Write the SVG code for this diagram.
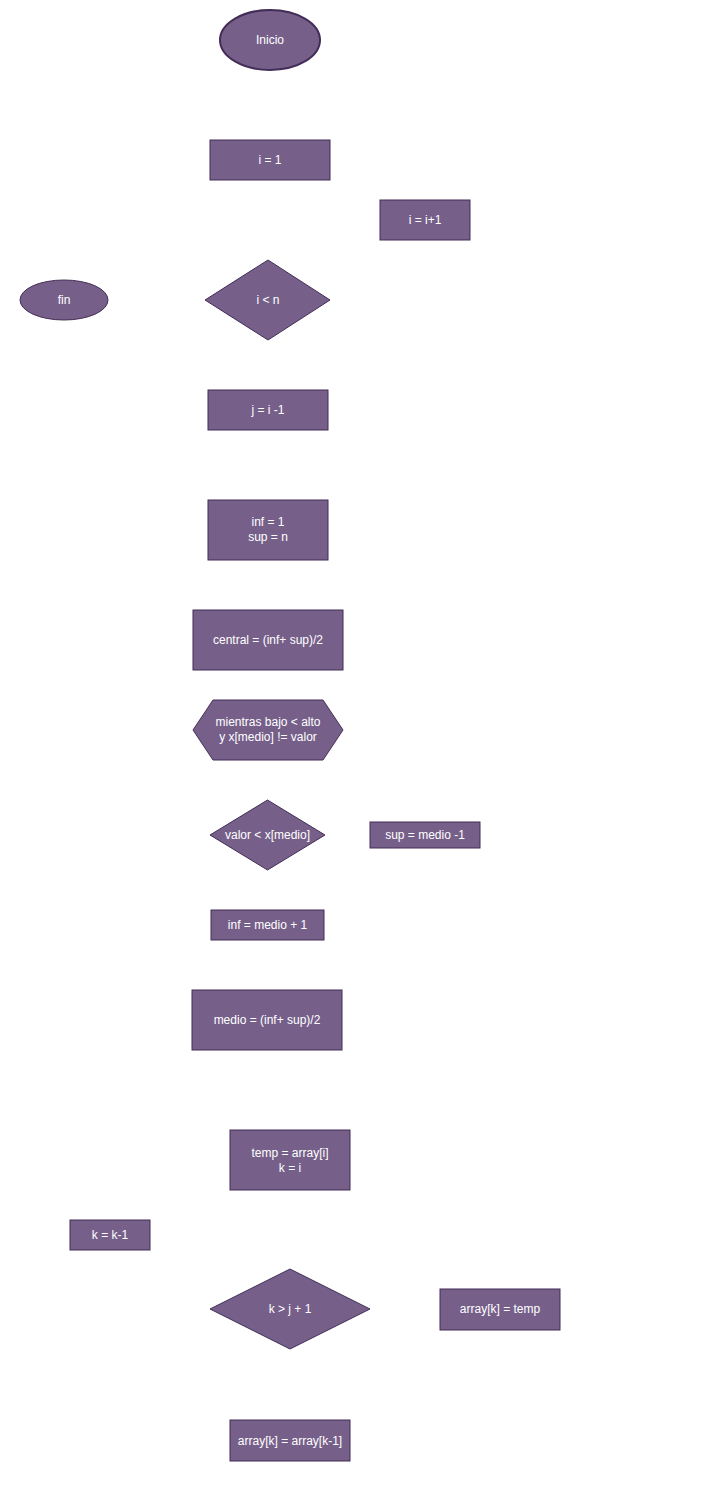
<svg xmlns="http://www.w3.org/2000/svg" width="718" height="1496" viewBox="0 0 718 1496">
<style>
.s{fill:#76608a;stroke:#432d57;stroke-width:1}
.t{font-family:"Liberation Sans",Arial,sans-serif;font-size:12px;fill:#ffffff;text-anchor:middle}
</style>
<rect width="718" height="1496" fill="#ffffff"/>
<g id="connectors"></g>
<g id="inicio"><ellipse class="s" cx="270" cy="40" rx="50" ry="30" style="stroke-width:2"/><text class="t" x="270" y="44">Inicio</text></g>
<g id="i1"><rect class="s" x="210" y="140" width="120" height="40"/><text class="t" x="270" y="164">i = 1</text></g>
<g id="iinc"><rect class="s" x="380" y="200" width="90" height="40"/><text class="t" x="425" y="224">i = i+1</text></g>
<g id="fin"><ellipse class="s" cx="64" cy="300" rx="44" ry="20"/><text class="t" x="64" y="304">fin</text></g>
<g id="iltn"><polygon class="s" points="268,260 330,300 268,340 205,300"/><text class="t" x="268" y="304">i &lt; n</text></g>
<g id="j"><rect class="s" x="208" y="390" width="120" height="40"/><text class="t" x="268" y="414">j = i -1</text></g>
<g id="infsup"><rect class="s" x="208" y="500" width="120" height="60"/><text class="t" x="268" y="526">inf = 1</text><text class="t" x="268" y="541">sup = n</text></g>
<g id="central"><rect class="s" x="193" y="610" width="150" height="60"/><text class="t" x="268" y="644">central = (inf+ sup)/2</text></g>
<g id="mientras"><polygon class="s" points="193,730 213,700 323,700 343,730 323,760 213,760"/><text class="t" x="268" y="726">mientras bajo &lt; alto</text><text class="t" x="268" y="741">y x[medio] != valor</text></g>
<g id="valor"><polygon class="s" points="267.5,800 325,835 267.5,870 210,835"/><text class="t" x="267.5" y="839">valor &lt; x[medio]</text></g>
<g id="supm"><rect class="s" x="370" y="822" width="110" height="26"/><text class="t" x="425" y="839">sup = medio -1</text></g>
<g id="infm"><rect class="s" x="211" y="910" width="113" height="30"/><text class="t" x="267.5" y="929">inf = medio + 1</text></g>
<g id="medio"><rect class="s" x="192" y="990" width="150" height="60"/><text class="t" x="267" y="1024">medio = (inf+ sup)/2</text></g>
<g id="temp"><rect class="s" x="230" y="1130" width="120" height="60"/><text class="t" x="290" y="1157">temp = array[i]</text><text class="t" x="290" y="1172">k = i</text></g>
<g id="kdec"><rect class="s" x="70" y="1220" width="80" height="30"/><text class="t" x="110" y="1239">k = k-1</text></g>
<g id="kgt"><polygon class="s" points="290,1269 370,1309 290,1349 210,1309"/><text class="t" x="290" y="1313">k &gt; j + 1</text></g>
<g id="arrtemp"><rect class="s" x="440" y="1289" width="120" height="41"/><text class="t" x="500" y="1313">array[k] = temp</text></g>
<g id="arrshift"><rect class="s" x="230" y="1420" width="120" height="41"/><text class="t" x="290" y="1445">array[k] = array[k-1]</text></g>
</svg>
